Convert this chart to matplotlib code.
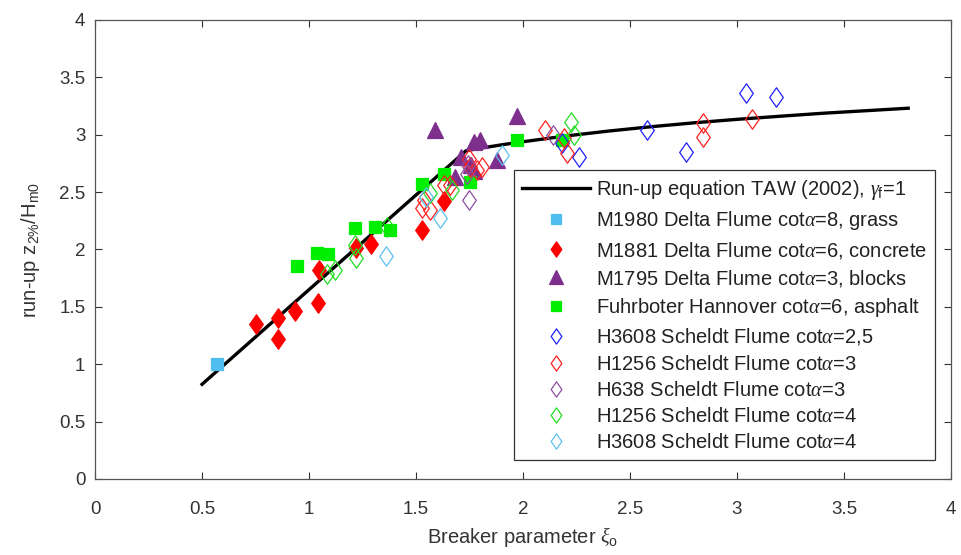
import matplotlib
matplotlib.use("Agg")
import matplotlib.pyplot as plt
from matplotlib.path import Path

plt.rcParams['font.family'] = ['Liberation Sans', 'DejaVu Sans']
plt.rcParams['mathtext.fontset'] = 'custom'
plt.rcParams['mathtext.rm'] = 'Liberation Sans'
plt.rcParams['mathtext.it'] = 'Liberation Serif:italic'
plt.rcParams['mathtext.default'] = 'rm'

# TAW (2002) run-up curve, tabulated
taw_xi = [0.5, 1.734, 1.8, 1.9, 2.0, 2.2, 2.4, 2.6, 2.8, 3.0, 3.2, 3.4, 3.6, 3.8]
taw_ru = [0.825, 2.861, 2.882, 2.912, 2.939, 2.989, 3.032, 3.070, 3.104, 3.134, 3.161, 3.187, 3.209, 3.231]

m1980_x = [0.57]
m1980_y = [1.00]

m1881_x = [0.75, 0.855, 0.855, 0.935, 1.04, 1.045, 1.22, 1.29, 1.53, 1.63]
m1881_y = [1.35, 1.40, 1.22, 1.46, 1.53, 1.82, 2.01, 2.05, 2.17, 2.42]

m1795_x = [1.59, 1.97, 1.71, 1.77, 1.80, 1.88, 1.68, 1.755, 1.77]
m1795_y = [3.04, 3.16, 2.81, 2.94, 2.95, 2.78, 2.63, 2.74, 2.68]

fuhr_x = [0.945, 1.037, 1.09, 1.216, 1.31, 1.38, 1.53, 1.63, 1.754, 1.97, 2.18]
fuhr_y = [1.86, 1.97, 1.96, 2.19, 2.20, 2.17, 2.57, 2.655, 2.59, 2.95, 2.95]

h3608a_x = [2.18, 2.26, 2.58, 2.76, 3.04, 3.18]
h3608a_y = [2.93, 2.81, 3.04, 2.85, 3.36, 3.33]

h1256a_x = [1.528, 1.535, 1.567, 1.63, 1.66, 1.747, 1.754, 1.786, 1.81, 2.105, 2.19, 2.207, 2.843, 2.843, 3.069]
h1256a_y = [2.36, 2.43, 2.34, 2.56, 2.56, 2.79, 2.72, 2.69, 2.72, 3.04, 2.97, 2.84, 3.10, 2.98, 3.135]

h638_x = [1.745, 1.747, 1.74, 2.14]
h638_y = [2.74, 2.43, 2.66, 3.00]

h1256b_x = [1.084, 1.123, 1.216, 1.221, 1.365, 1.567, 1.668, 2.222, 2.238]
h1256b_y = [1.79, 1.82, 2.04, 1.93, 2.20, 2.49, 2.52, 3.11, 3.00]

h3608b_x = [1.36, 1.545, 1.61, 1.90]
h3608b_y = [1.94, 2.46, 2.27, 2.82]

ticks = [0, 0.5, 1, 1.5, 2, 2.5, 3, 3.5, 4]
tick_labels = ['0', '0.5', '1', '1.5', '2', '2.5', '3', '3.5', '4']

labels = [
    r'Run-up equation TAW (2002), $\mathit{\gamma}_{\mathrm{f}}$=1',
    r'M1980 Delta Flume cot$\mathit{\alpha}$=8, grass',
    r'M1881 Delta Flume cot$\mathit{\alpha}$=6, concrete',
    r'M1795 Delta Flume cot$\mathit{\alpha}$=3, blocks',
    r'Fuhrboter Hannover cot$\mathit{\alpha}$=6, asphalt',
    r'H3608 Scheldt Flume cot$\mathit{\alpha}$=2,5',
    r'H1256 Scheldt Flume cot$\mathit{\alpha}$=3',
    r'H638 Scheldt Flume cot$\mathit{\alpha}$=3',
    r'H1256 Scheldt Flume cot$\mathit{\alpha}$=4',
    r'H3608 Scheldt Flume cot$\mathit{\alpha}$=4',
]

diamond = Path([(0, 1), (0.7, 0), (0, -1), (-0.7, 0), (0, 1)],
               [Path.MOVETO, Path.LINETO, Path.LINETO, Path.LINETO, Path.CLOSEPOLY])

fig = plt.figure(figsize=(9.61, 5.55), dpi=100)
ax = fig.add_axes([0.0989, 0.137, 0.8907, 0.827])

handles = []
h, = ax.plot(taw_xi, taw_ru, color='black', lw=2.4, zorder=2)
handles.append(h)

series = [
    (m1980_x, m1980_y, 's', '#4DBEEE', '#4DBEEE', 8),
    (m1881_x, m1881_y, diamond, 'red', 'red', 14),
    (m1795_x, m1795_y, '^', '#7E2F8E', '#7E2F8E', 11.5),
    (fuhr_x, fuhr_y, 's', '#00EE00', '#00EE00', 8),
    (h3608a_x, h3608a_y, diamond, '#2020FF', 'none', 14),
    (h1256a_x, h1256a_y, diamond, '#FF2020', 'none', 14),
    (h638_x, h638_y, diamond, '#8E4FA0', 'none', 14),
    (h1256b_x, h1256b_y, diamond, '#22DD22', 'none', 14),
    (h3608b_x, h3608b_y, diamond, '#5CC0F0', 'none', 14),
]
for x, y, mk, ec, fc, ms in series:
    h, = ax.plot(x, y, linestyle='none', marker=mk, markersize=ms,
                 markeredgecolor=ec, markerfacecolor=fc, markeredgewidth=0.9, zorder=3)
    handles.append(h)

ax.set_xlim(0, 4)
ax.set_ylim(0, 4)
ax.set_xticks(ticks)
ax.set_xticklabels(tick_labels)
ax.set_yticks(ticks)
ax.set_yticklabels(tick_labels)
ax.tick_params(direction='in', top=True, right=True, length=5, width=0.8,
               colors='#333333', labelsize=13.5)
ax.tick_params(axis='x', pad=16)
ax.tick_params(axis='y', pad=7)
for sp in ax.spines.values():
    sp.set_color('#555555')
    sp.set_linewidth(0.9)

ax.set_xlabel(r'Breaker parameter $\mathit{\xi}_{\mathrm{o}}$', fontsize=14.5, color='#333333', labelpad=5)
ax.set_ylabel(r'run-up z$_{2\%}$/H$_{\mathrm{m0}}$', fontsize=14.5, color='#333333', labelpad=12)

leg = ax.legend(handles, labels, loc='upper left', bbox_to_anchor=(0.489, 0.673),
                borderaxespad=0, fontsize=14.5, frameon=True, fancybox=False,
                framealpha=1, edgecolor='#333333', handlelength=3.4,
                handletextpad=0.3, labelspacing=0.36, borderpad=0.4)
leg.get_frame().set_linewidth(0.9)
for t in leg.get_texts():
    t.set_color('#222222')
lh = leg.legend_handles
for i, hh in enumerate(lh):
    if i == 0:
        continue
    if series[i - 1][2] is diamond:
        hh.set_markersize(11)
    elif series[i - 1][2] == '^':
        hh.set_markersize(10.5)
    else:
        hh.set_markersize(7.5)

fig.savefig('out.png', dpi=100)
